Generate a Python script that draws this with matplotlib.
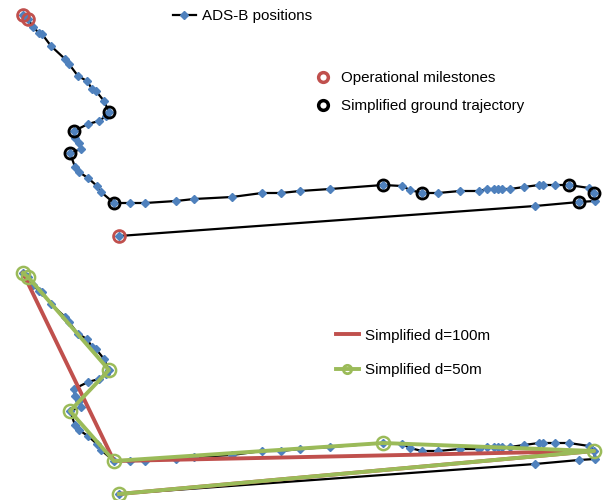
import matplotlib
matplotlib.use('Agg')
import matplotlib.pyplot as plt
from matplotlib.lines import Line2D

plt.rcParams['font.family'] = ['Liberation Sans', 'DejaVu Sans']

# ADS-B positions (local x / y, screen units, y down)
ads_x = [23, 28, 33, 39, 42, 51, 65, 69, 78, 87, 92, 96, 104, 109, 106, 99, 88, 74, 75, 79, 81, 70,
         75, 79, 88, 97, 101, 114, 130, 145, 176, 194, 232, 262, 281, 300, 330, 383, 402, 410, 422,
         438, 460, 479, 487, 494, 498, 502, 510, 524, 539, 543, 555, 569, 589, 594, 595, 579, 535, 119]
ads_y = [15, 19, 27, 33, 34, 46, 59, 64, 76, 81, 89, 91, 101, 112, 116, 121, 124, 131, 138, 143, 149, 153,
         167, 172, 178, 186, 192, 203, 203, 203, 201, 199, 197, 193, 193, 191, 189, 185, 186, 190, 193,
         193, 191, 191, 189, 189, 189, 189, 189, 187, 185, 185, 185, 185, 188, 193, 201, 202, 206, 236]

# indices into ADS-B positions
milestones = [0, 1, 59]
simplified = [13, 17, 21, 27, 37, 40, 53, 55, 57]
simp_100 = [0, 27, 55, 59]
simp_50 = [0, 1, 13, 21, 27, 37, 55, 59]

blue = '#4f81bd'
red = '#c0504d'
green = '#9bbb59'
fs = 10.9

fig = plt.figure(figsize=(6.03, 5), dpi=100)

# top panel
ax = fig.add_axes([0, 0.5, 1, 0.5])
ax.plot(ads_x, ads_y, color='black', lw=1.6, marker='D', ms=4.3, mfc=blue, mec=blue, zorder=2)
ax.plot([ads_x[i] for i in simplified], [ads_y[i] for i in simplified], ls='none', marker='o',
        ms=8, mfc='none', mec='black', mew=2, zorder=3)
ax.plot([ads_x[i] for i in milestones], [ads_y[i] for i in milestones], ls='none', marker='o',
        ms=8.5, mfc='none', mec=red, mew=2, zorder=4)
ax.set_xlim(0, 603)
ax.set_ylim(250, 0)
ax.axis('off')

# bottom panel
ax2 = fig.add_axes([0, 0, 1, 0.484])
ax2.plot(ads_x, ads_y, color='black', lw=1.6, marker='D', ms=4.3, mfc=blue, mec=blue, zorder=2)
ax2.plot([ads_x[i] for i in simp_100], [ads_y[i] for i in simp_100], color=red, lw=2.8, zorder=3)
ax2.plot([ads_x[i] for i in simp_50], [ads_y[i] for i in simp_50], color=green, lw=2.8,
         marker='o', ms=9.5, mfc='none', mec=green, mew=1.8, zorder=4)
ax2.set_xlim(0, 603)
ax2.set_ylim(242, 0)
ax2.axis('off')

leg_kw = dict(loc='center left', frameon=False, fontsize=fs, borderpad=0, borderaxespad=0,
              handlelength=1.5, handletextpad=0.4)

h1 = [Line2D([], [], color='black', lw=1.6, marker='D', ms=4.3, mfc=blue, mec=blue)]
fig.legend(h1, ['ADS-B positions'], bbox_to_anchor=(173 / 603, 1 - 16 / 500), **leg_kw)

h2 = [Line2D([], [], ls='none', marker='o', ms=7, mfc='none', mec=red, mew=2.5),
      Line2D([], [], ls='none', marker='o', ms=7, mfc='none', mec='black', mew=2.5)]
fig.legend(h2, ['Operational milestones', 'Simplified ground trajectory'],
           bbox_to_anchor=(312 / 603, 1 - 92 / 500), labelspacing=0.95, **leg_kw)

h3 = [Line2D([], [], color=red, lw=2.8),
      Line2D([], [], color=green, lw=2.8, marker='o', ms=6, mfc='none', mec=green, mew=2)]
fig.legend(h3, ['Simplified d=100m', 'Simplified d=50m'],
           bbox_to_anchor=(336 / 603, 1 - 353 / 500), labelspacing=1.35, **leg_kw)

fig.savefig('out.png', dpi=100)
